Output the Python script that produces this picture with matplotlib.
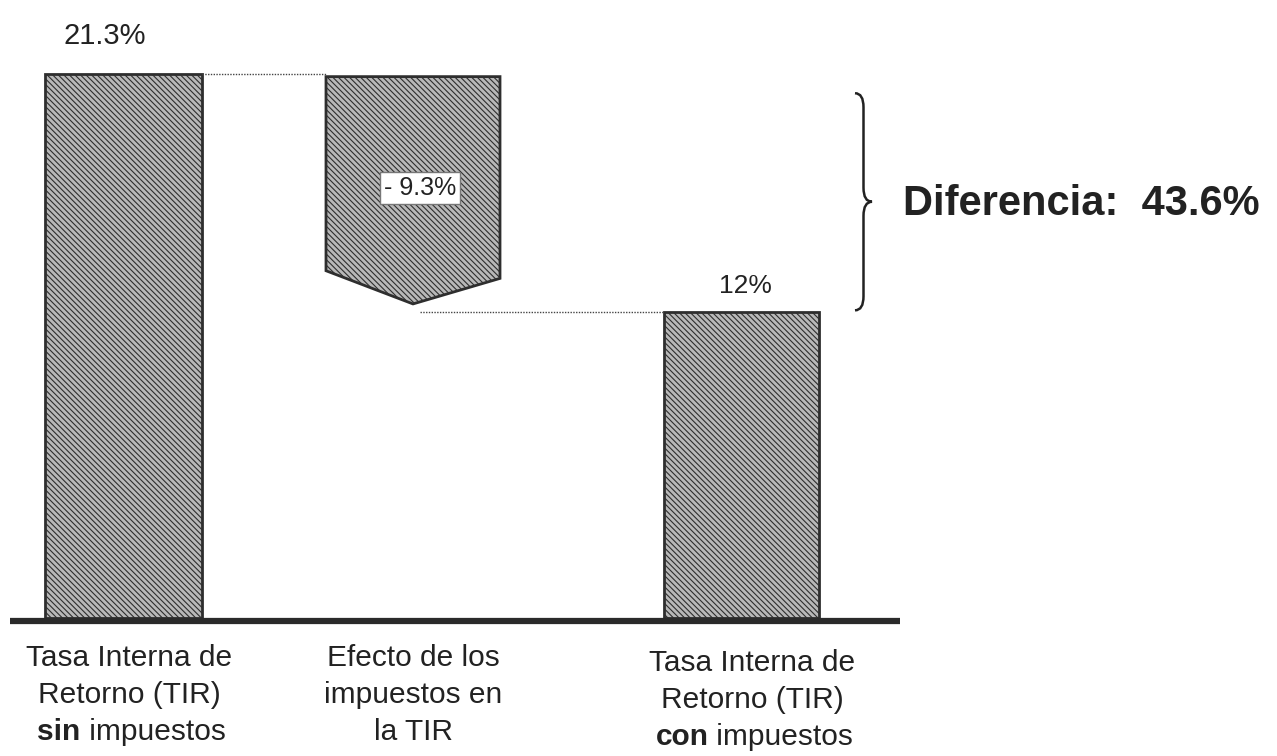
import matplotlib

matplotlib.use("Agg")
import matplotlib.pyplot as plt
from matplotlib.patches import Polygon, Rectangle, PathPatch
from matplotlib.path import Path

plt.rcParams["font.family"] = ["Liberation Sans", "DejaVu Sans"]
plt.rcParams["hatch.linewidth"] = 0.8
plt.rcParams["hatch.color"] = "#888888"

# data (TIR in %)
tir_sin = 21.3
efecto = -9.3
tir_con = 12.0
diferencia = 43.6
labels = [
    ["Tasa Interna de", "Retorno (TIR)", ("sin", " impuestos")],
    ["Efecto de los", "impuestos en", ("", "la TIR")],
    ["Tasa Interna de", "Retorno (TIR)", ("con", " impuestos")],
]

FACE = "#b8b8b8"
EDGE = "#2e2e2e"
HATCH = "\\\\\\\\\\\\"
TXT = "#222222"

fig = plt.figure(figsize=(12.77, 7.56), dpi=100)
ax = fig.add_axes([0, 0, 1, 1])
ax.set_xlim(0, 1277)
ax.set_ylim(-5.40, 24.20)
ax.axis("off")

# bars
ax.add_patch(Rectangle((45, 0), 157, tir_sin, facecolor=FACE, edgecolor=EDGE,
                       lw=2, hatch=HATCH))
ax.add_patch(Rectangle((664, 0), 155, tir_con, facecolor=FACE, edgecolor=EDGE,
                       lw=2, hatch=HATCH))

# arrow-shaped delta
top = tir_sin - 0.1
end = tir_sin + efecto
tip = end + 0.3
ax.add_patch(Polygon([(326, top), (500, top), (500, tip + 1.0), (413, tip),
                      (326, tip + 1.3)], closed=True, facecolor=FACE,
                     edgecolor=EDGE, lw=2, hatch=HATCH))

# connectors
ax.plot([202, 326], [tir_sin, tir_sin], ls=(0, (1, 1)), color="#444", lw=1)
ax.plot([420, 664], [end, end], ls=(0, (1, 1)), color="#444", lw=1)

# baseline
ax.plot([10, 900], [-0.1, -0.1], color="#2a2a2a", lw=4.5, solid_capstyle="butt")

# value labels
ax.text(105, tir_sin + 1.5, f"{tir_sin}%", ha="center", va="center", fontsize=21,
        color=TXT)
ax.text(745, tir_con + 1.0, f"{tir_con:.0f}%", ha="center", va="center",
        fontsize=19, color=TXT)
ax.text(420, 16.84, f"- {abs(efecto)}%", ha="center", va="center", fontsize=18,
        color=TXT,
        bbox=dict(boxstyle="square,pad=0.15", facecolor="white",
                  edgecolor="#777", lw=1))


def brace(x, y0, y1, w, r):
    ym = (y0 + y1) / 2
    xm = x + w / 2
    verts = [(x, y1), (xm, y1), (xm, y1 - r),
             (xm, ym + r), (xm, ym), (x + w, ym),
             (xm, ym), (xm, ym - r),
             (xm, y0 + r), (xm, y0), (x, y0)]
    codes = [Path.MOVETO, Path.CURVE3, Path.CURVE3,
             Path.LINETO, Path.CURVE3, Path.CURVE3,
             Path.CURVE3, Path.CURVE3,
             Path.LINETO, Path.CURVE3, Path.CURVE3]
    ax.add_patch(PathPatch(Path(verts, codes), facecolor="none",
                           edgecolor=TXT, lw=1.8))


# brace + difference
brace(855, tir_con + 0.05, tir_sin - 0.75, 17, 0.55)
ax.text(903, 16.2, f"Diferencia:  {diferencia}%", ha="left", va="center",
        fontsize=30, fontweight="bold", color=TXT)

# category labels
centers = [129, 413, 752]
shifts = [0.0, 0.0, -0.2]
fs = 21.5
inv = ax.transData.inverted()
for cx, dy, (l1, l2, (b, rest)) in zip(centers, shifts, labels):
    ax.text(cx, -1.55 + dy, l1, ha="center", va="center", fontsize=fs, color=TXT)
    ax.text(cx, -3.0 + dy, l2, ha="center", va="center", fontsize=fs, color=TXT)
    y3 = -4.45 + dy
    if b:
        # measure full line, then place bold part and regular part side by side
        t = ax.text(cx, y3, b + rest, ha="center", va="center", fontsize=fs)
        fig.canvas.draw()
        x0 = inv.transform(t.get_window_extent().p0)[0]
        t.remove()
        tb = ax.text(x0, y3, b, ha="left", va="center", fontsize=fs,
                     fontweight="bold", color=TXT)
        fig.canvas.draw()
        x1 = inv.transform(tb.get_window_extent().p1)[0]
        ax.text(x1, y3, rest, ha="left", va="center", fontsize=fs, color=TXT)
    else:
        ax.text(cx, y3, rest, ha="center", va="center", fontsize=fs, color=TXT)

fig.savefig("out.png", dpi=100)
